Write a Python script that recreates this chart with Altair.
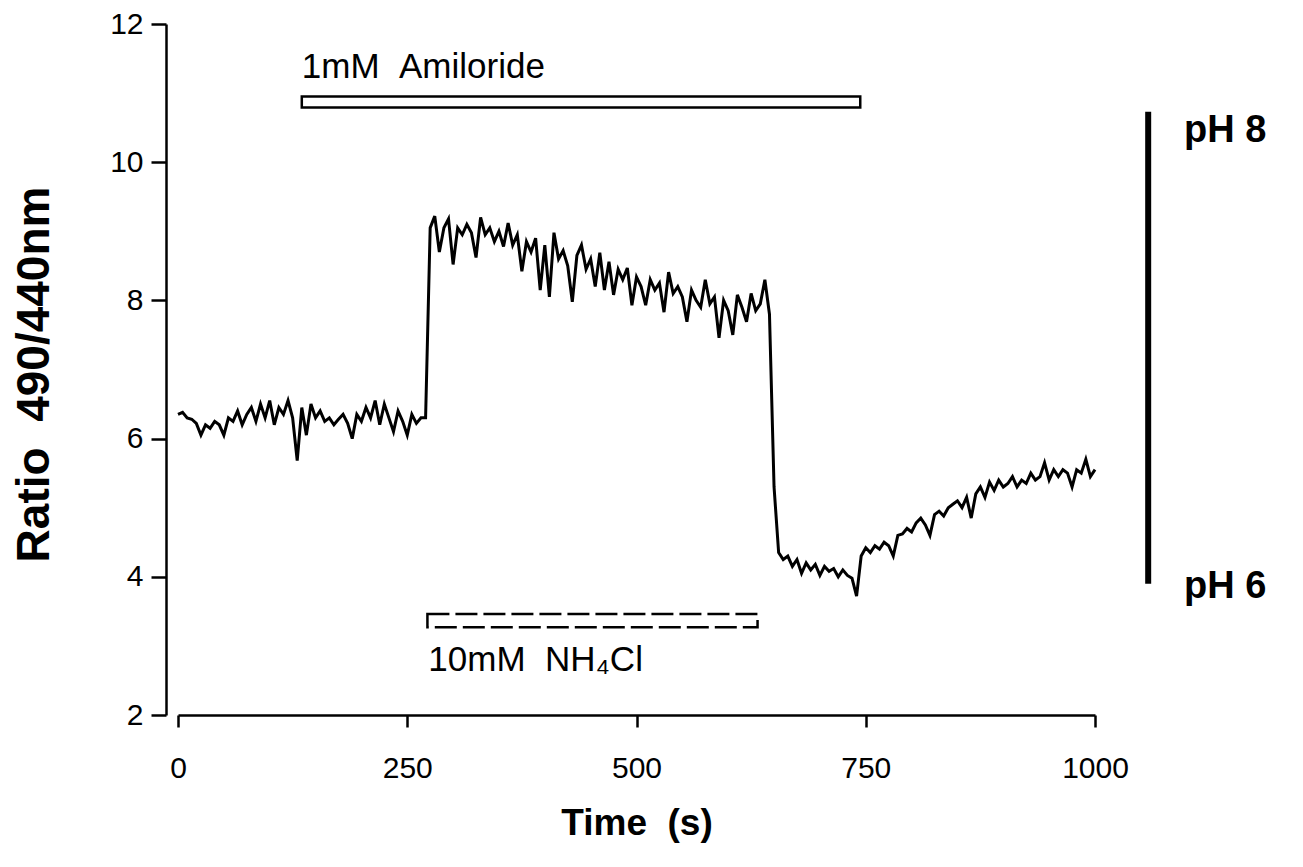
import altair as alt
import pandas as pd

time_s = list(range(0, 1001, 5))
ratio = [
    6.35, 6.38, 6.30, 6.28, 6.22, 6.05, 6.20, 6.15, 6.25, 6.20,
    6.05, 6.30, 6.25, 6.40, 6.20, 6.35, 6.45, 6.25, 6.50, 6.30,
    6.55, 6.20, 6.45, 6.35, 6.55, 6.30, 5.68, 6.45, 6.05, 6.50,
    6.30, 6.40, 6.25, 6.30, 6.20, 6.28, 6.35, 6.22, 6.00, 6.35,
    6.25, 6.45, 6.30, 6.55, 6.20, 6.50, 6.30, 6.10, 6.40, 6.25,
    6.05, 6.35, 6.22, 6.30, 6.30, 9.05, 9.22, 8.70, 9.05, 9.18,
    8.52, 9.05, 8.95, 9.10, 8.98, 8.62, 9.20, 8.95, 9.05, 8.85,
    9.00, 8.78, 9.12, 8.80, 8.95, 8.42, 8.85, 8.70, 8.90, 8.15,
    8.80, 8.05, 8.98, 8.60, 8.72, 8.50, 7.98, 8.65, 8.80, 8.45,
    8.60, 8.20, 8.69, 8.15, 8.56, 8.08, 8.45, 8.30, 8.47, 7.93,
    8.34, 8.20, 7.93, 8.30, 8.15, 8.25, 7.83, 8.41, 8.10, 8.20,
    8.05, 7.69, 8.15, 8.00, 7.90, 8.30, 7.95, 8.05, 7.46, 8.00,
    7.85, 7.50, 8.08, 7.90, 7.69, 8.10, 7.85, 7.95, 8.30, 7.80,
    5.30, 4.35, 4.25, 4.30, 4.15, 4.25, 4.05, 4.20, 4.10, 4.18,
    4.02, 4.15, 4.08, 4.12, 4.00, 4.10, 4.02, 3.98, 3.72, 4.30,
    4.42, 4.35, 4.45, 4.40, 4.50, 4.45, 4.30, 4.60, 4.62, 4.70,
    4.65, 4.78, 4.85, 4.75, 4.60, 4.90, 4.95, 4.88, 5.00, 5.05,
    5.10, 5.00, 5.15, 4.85, 5.20, 5.30, 5.15, 5.37, 5.25, 5.40,
    5.30, 5.35, 5.45, 5.30, 5.40, 5.35, 5.50, 5.40, 5.45, 5.65,
    5.40, 5.55, 5.45, 5.55, 5.50, 5.30, 5.55, 5.50, 5.70, 5.45,
    5.55,
]
assert len(ratio) == len(time_s)

x_ticks = [0, 250, 500, 750, 1000]
y_ticks = [2, 4, 6, 8, 10, 12]

# ---- annotations (data units) ----
bar_names = ["amiloride", "nh4cl"]
bar_start = [135, 272]
bar_end = [744, 632]
bar_low = [10.79, 3.27]
bar_high = [10.95, 3.46]

label_text = ["1mM\u00a0\u00a0Amiloride", "10mM\u00a0\u00a0NH\u2084Cl"]
label_x = [135, 273]
label_y = [11.38, 2.80]

ph_x = [1058]
ph_top = [10.73]
ph_bottom = [3.9]
ph_text = ["pH 8", "pH 6"]
ph_text_x = [1097, 1097]
ph_text_y = [10.45, 3.85]

FONT = "Liberation Sans"

trace = pd.DataFrame({"time": time_s, "ratio": ratio})
bars = pd.DataFrame({"name": bar_names, "time": bar_start, "time2": bar_end,
                     "ratio": bar_low, "ratio2": bar_high})
labels = pd.DataFrame({"label": label_text, "time": label_x, "ratio": label_y})
phbar = pd.DataFrame({"time": ph_x, "ratio": ph_top, "ratio2": ph_bottom})
phlab = pd.DataFrame({"label": ph_text, "time": ph_text_x, "ratio": ph_text_y})

xscale = alt.Scale(domain=[0, 1000], nice=False, zero=False)
yscale = alt.Scale(domain=[2, 12], nice=False, zero=False)

line = alt.Chart(trace).mark_line(color="black", strokeWidth=3, strokeJoin="miter").encode(
    x=alt.X("time:Q", scale=xscale,
            axis=alt.Axis(values=x_ticks, format="d", title="Time\u00a0\u00a0(s)", grid=False,
                          labelFlush=False, labelOverlap=False,
                          tickSize=12, labelPadding=26,
                          titleFontSize=37, titleY=90, titleBaseline="top")),
    y=alt.Y("ratio:Q", scale=yscale,
            axis=alt.Axis(values=y_ticks, format="d", title="Ratio\u00a0\u00a0490/440nm", grid=False,
                          offset=12, tickSize=15, labelPadding=8,
                          labelFlush=False, labelOverlap=False,
                          titleFontSize=46, titleX=-108, titleY=350, titleBaseline="bottom")),
)

amil = alt.Chart(bars).transform_filter(alt.datum.name == "amiloride").mark_rect(
    fill="white", stroke="black", strokeWidth=2.5
).encode(x="time:Q", x2="time2:Q", y="ratio:Q", y2="ratio2:Q")

nh4 = alt.Chart(bars).transform_filter(alt.datum.name == "nh4cl").mark_rect(
    fill="white", stroke="black", strokeWidth=2.5, strokeDash=[22, 6]
).encode(x="time:Q", x2="time2:Q", y="ratio:Q", y2="ratio2:Q")

texts = alt.Chart(labels).mark_text(
    align="left", baseline="middle", font=FONT, fontSize=35, color="black"
).encode(x="time:Q", y="ratio:Q", text="label:N")

rule = alt.Chart(phbar).mark_rule(color="black", strokeWidth=6).encode(
    x="time:Q", y="ratio:Q", y2="ratio2:Q")

phtexts = alt.Chart(phlab).mark_text(
    align="left", baseline="middle", font=FONT, fontSize=38, fontWeight="bold", color="black"
).encode(x="time:Q", y="ratio:Q", text="label:N")

chart = alt.layer(line, amil, nh4, texts, rule, phtexts).properties(
    width=917, height=691,
    padding={"left": 178, "top": 24, "right": 208, "bottom": 152},
    autosize=alt.AutoSizeParams(type="none"),
    background="white",
).configure_view(stroke=None).configure_axis(
    domainColor="black", domainWidth=2.5, tickColor="black", tickWidth=2.5,
    labelFont=FONT, labelFontSize=30, labelColor="black",
    titleFont=FONT, titleFontSize=38, titleFontWeight="bold", titleColor="black",
)

chart.save("out.html", embed_options={"renderer": "svg", "actions": False})
